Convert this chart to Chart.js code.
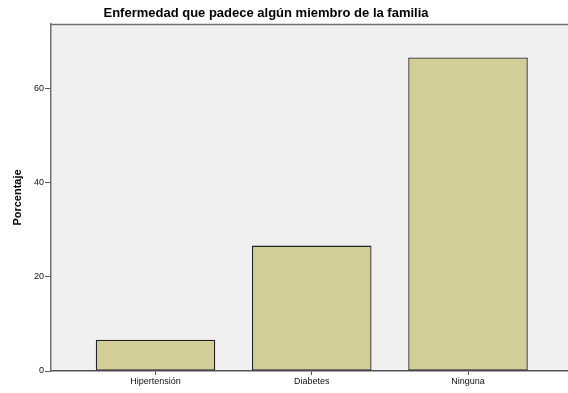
<!DOCTYPE html>
<html>
<head>
<meta charset="utf-8">
<script src="https://cdn.jsdelivr.net/npm/chart.js@4"></script>
<style>
  body { margin: 0; background: #fff; }
  #wrap { width: 568px; height: 393px; position: relative; }
</style>
</head>
<body>
<div id="wrap"><canvas id="chart"></canvas></div>
<script>
// chart values
const chartTitle = 'Enfermedad que padece algún miembro de la familia';
const categories = ['Hipertensión', 'Diabetes', 'Ninguna'];
const positions = [1, 2, 3];
const percentages = [6.67, 26.67, 66.67];
const yTicks = [0, 20, 40, 60];

const FONT = '"Liberation Sans", Arial, sans-serif';

// plot background, top border and the title
const frame = {
  id: 'frame',
  beforeDraw(chart) {
    const { ctx, chartArea: a } = chart;
    ctx.save();
    ctx.fillStyle = '#f0f0f0';
    ctx.fillRect(a.left, a.top, a.right - a.left, a.bottom - a.top);
    ctx.strokeStyle = '#707070';
    ctx.lineWidth = 1.5;
    ctx.beginPath();
    ctx.moveTo(a.left, a.top + 0.5);
    ctx.lineTo(a.right, a.top + 0.5);
    ctx.stroke();
    ctx.restore();
  },
  afterDraw(chart) {
    const ctx = chart.ctx;
    ctx.save();
    ctx.font = 'bold 13px ' + FONT;
    ctx.fillStyle = '#000';
    ctx.textAlign = 'center';
    ctx.textBaseline = 'middle';
    ctx.fillText(chartTitle, 266, 13);
    ctx.restore();
  }
};

new Chart(document.getElementById('chart'), {
  type: 'bar',
  data: {
    datasets: [{
      data: positions.map((x, i) => ({ x: x, y: percentages[i] })),
      backgroundColor: '#d3ce97',
      borderColor: '#222222',
      borderWidth: 1.3,
      borderSkipped: false,
      categoryPercentage: 1,
      barPercentage: 0.765
    }]
  },
  options: {
    responsive: true,
    maintainAspectRatio: false,
    animation: false,
    layout: { padding: { top: 24, right: 0, bottom: 0, left: 0 } },
    plugins: {
      legend: { display: false },
      tooltip: { enabled: false }
    },
    scales: {
      x: {
        type: 'linear',
        offset: false,
        min: 0.331,
        max: 3.64,
        afterBuildTicks: s => { s.ticks = positions.map(v => ({ value: v })); },
        afterFit: s => { s.height = 22; },
        ticks: {
          callback: (v) => categories[positions.indexOf(v)] || '',
          font: { family: FONT, size: 9 },
          color: '#111',
          padding: 1,
          maxRotation: 0,
          autoSkip: false
        },
        grid: { offset: false, drawOnChartArea: false, tickLength: 4, color: '#555', lineWidth: 1 },
        border: { color: '#555', width: 1.5 }
      },
      y: {
        min: 0,
        max: 73.8,
        afterBuildTicks: s => { s.ticks = yTicks.map(v => ({ value: v })); },
        afterFit: s => { s.width = 51; },
        ticks: {
          font: { family: FONT, size: 9 },
          color: '#111',
          padding: 1
        },
        grid: { drawOnChartArea: false, tickLength: 6, color: '#555', lineWidth: 1 },
        border: { color: '#707070', width: 1.5 },
        title: {
          display: true,
          text: 'Porcentaje',
          font: { family: FONT, size: 11, weight: 'bold' },
          color: '#000',
          padding: { top: 11, bottom: 0 }
        }
      }
    }
  },
  plugins: [frame]
});
</script>
</body>
</html>
